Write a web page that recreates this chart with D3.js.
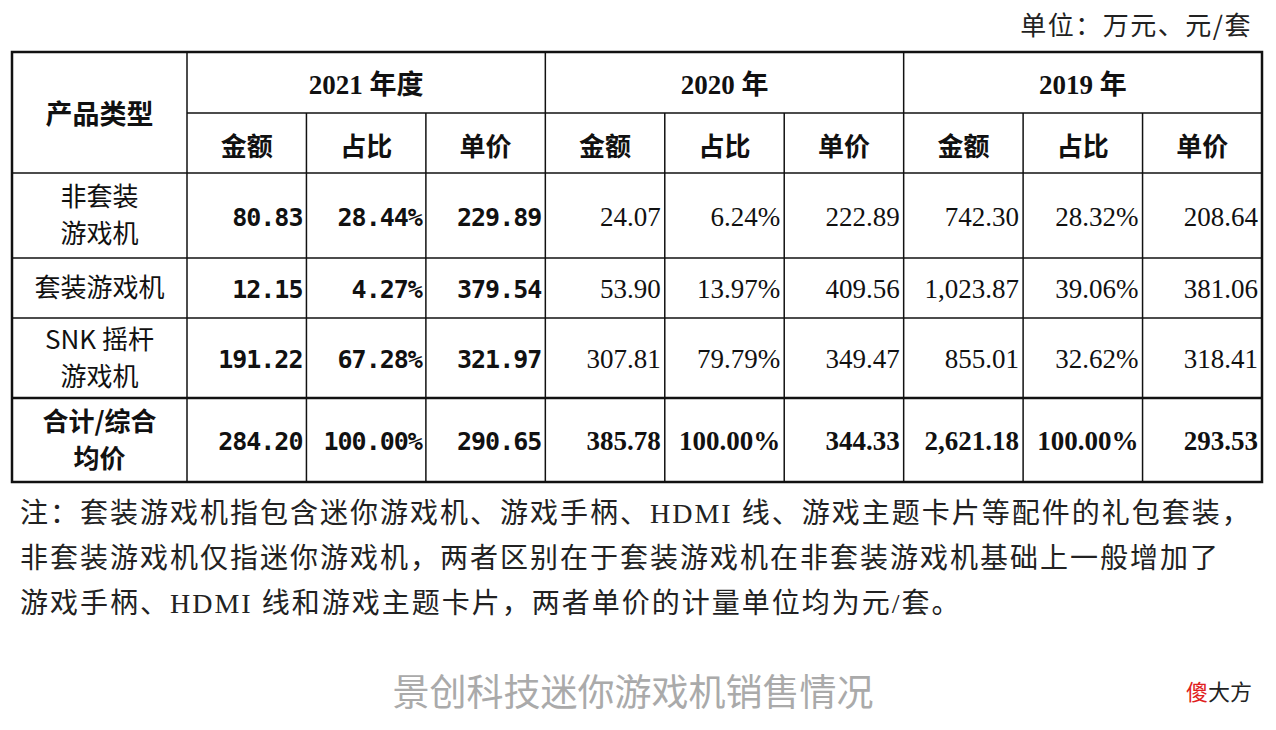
<!DOCTYPE html>
<html><head><meta charset="utf-8">
<script src="https://cdn.jsdelivr.net/npm/d3@7"></script>
<style>body{margin:0;background:#fff}</style></head>
<body><svg id="c" width="1276" height="730"></svg>
<script>
const years = ["2021 年度", "2020 年", "2019 年"];
const subHeads = ["金额", "占比", "单价"];
const products = [["非套装", "游戏机"], ["套装游戏机"], ["SNK 摇杆", "游戏机"], ["合计/综合", "均价"]];
const amount2021 = ["80.83", "12.15", "191.22", "284.20"];
const share2021 = ["28.44%", "4.27%", "67.28%", "100.00%"];
const price2021 = ["229.89", "379.54", "321.97", "290.65"];
const amount2020 = ["24.07", "53.90", "307.81", "385.78"];
const share2020 = ["6.24%", "13.97%", "79.79%", "100.00%"];
const price2020 = ["222.89", "409.56", "349.47", "344.33"];
const amount2019 = ["742.30", "1,023.87", "855.01", "2,621.18"];
const share2019 = ["28.32%", "39.06%", "32.62%", "100.00%"];
const price2019 = ["208.64", "381.06", "318.41", "293.53"];
const unitText = "单位：万元、元/套";
const notes = ["注：套装游戏机指包含迷你游戏机、游戏手柄、HDMI 线、游戏主题卡片等配件的礼包套装，",
  "非套装游戏机仅指迷你游戏机，两者区别在于套装游戏机在非套装游戏机基础上一般增加了",
  "游戏手柄、HDMI 线和游戏主题卡片，两者单价的计量单位均为元/套。"];
const caption = "景创科技迷你游戏机销售情况";

const cols = [amount2021, share2021, price2021, amount2020, share2020, price2020, amount2019, share2019, price2019];
const svg = d3.select("#c");
const serif = "'Liberation Serif','Noto Sans CJK SC',serif";
const cjk = "'Noto Sans CJK SC',sans-serif";
const x = d3.scaleLinear().domain([0, 9]).range([187, 1262]);
const left = 12;
const rowEdges = [52, 113, 173, 258, 318, 398, 482];

svg.append("text").attr("x", 1252).attr("y", 35).attr("text-anchor", "end")
  .attr("font-family", cjk).attr("font-size", 26).attr("letter-spacing", 1.5).attr("fill", "#222").text(unitText);

const g = svg.append("g").attr("stroke", "#111").attr("fill", "none");
g.append("rect").attr("x", left).attr("y", 52).attr("width", 1250).attr("height", 430).attr("stroke-width", 2.5);
g.append("line").attr("x1", x(0)).attr("x2", x(9)).attr("y1", 113).attr("y2", 113).attr("stroke-width", 1.5);
rowEdges.slice(2, 6).forEach((y, i) => g.append("line").attr("x1", left).attr("x2", x(9)).attr("y1", y).attr("y2", y).attr("stroke-width", i == 3 ? 2.5 : 1.5));
d3.range(0, 9).forEach(i => {
  const y1 = (i % 3 === 0) ? 52 : 113;
  g.append("line").attr("x1", x(i)).attr("x2", x(i)).attr("y1", y1).attr("y2", 482).attr("stroke-width", 1.5);
});

const t = svg.append("g").attr("fill", "#111");
t.append("text").attr("x", (left + x(0)) / 2).attr("y", 124).attr("text-anchor", "middle")
  .attr("font-family", cjk).attr("font-weight", "bold").attr("font-size", 27).text("产品类型");
years.forEach((yr, i) => t.append("text").attr("x", (x(i * 3) + x(i * 3 + 3)) / 2).attr("y", 94)
  .attr("text-anchor", "middle").attr("font-family", serif).attr("font-weight", "bold").attr("font-size", 27).text(yr));
d3.range(9).forEach(i => t.append("text").attr("x", (x(i) + x(i + 1)) / 2).attr("y", 156)
  .attr("text-anchor", "middle").attr("font-family", cjk).attr("font-weight", "bold").attr("font-size", 26).text(subHeads[i % 3]));

products.forEach((p, r) => {
  const yc = (rowEdges[r + 2] + rowEdges[r + 3]) / 2;
  const bold = r === 3;
  const lh = 37;
  p.forEach((line, k) => t.append("text").attr("x", (left + x(0)) / 2)
    .attr("y", yc + (k - (p.length - 1) / 2) * lh + 9).attr("text-anchor", "middle")
    .attr("font-family", cjk).attr("font-weight", bold ? "bold" : "normal").attr("font-size", 26).text(line));
  cols.forEach((col, c) => {
    const first = c < 3;
    t.append("text").attr("x", x(c + 1) - 4).attr("y", yc + 10).attr("text-anchor", "end")
      .attr("font-family", first ? "'DejaVu Sans Mono',monospace" : serif)
      .attr("font-weight", (first || bold) ? "bold" : "normal")
      .attr("font-size", first ? 25 : 27).attr("letter-spacing", first ? -1 : 0)
      .text(col[r]);
  });
});

notes.forEach((n, i) => svg.append("text").attr("x", 20).attr("y", 523 + i * 45)
  .attr("font-family", serif).attr("font-size", 28).attr("letter-spacing", 2).attr("fill", "#222").text(n));

svg.append("text").attr("x", 633).attr("y", 706).attr("text-anchor", "middle")
  .attr("font-family", cjk).attr("font-size", 37).attr("fill", "#aaa").text(caption);
const logo = svg.append("text").attr("x", 1186).attr("y", 700).attr("font-family", cjk).attr("font-size", 22);
logo.append("tspan").attr("fill", "#e02020").text("傻");
logo.append("tspan").attr("fill", "#222").text("大方");
</script></body></html>
